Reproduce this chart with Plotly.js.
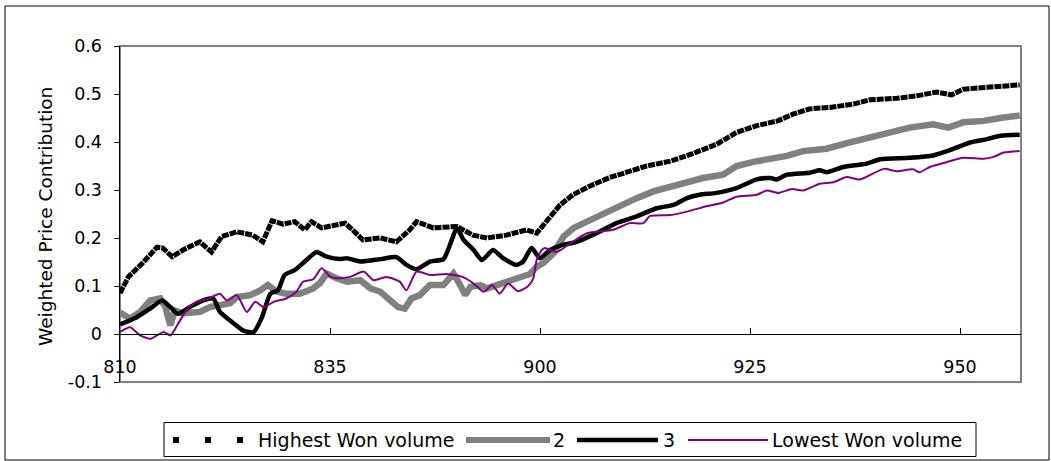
<!DOCTYPE html>
<html>
<head>
<meta charset="utf-8">
<script src="https://cdn.plot.ly/plotly-3.0.1.min.js"></script>
<style>html,body{margin:0;padding:0;background:#fff;}#chart{width:1051px;height:461px;}</style>
</head>
<body>
<div id="chart"></div>
<script>
// Time axis: minutes after 8:10 (ticks labelled in HMM form)
const tickMinutes = [0, 25, 50, 75, 100];
const tickLabels = ['810', '835', '900', '925', '950'];
const yTickVals = [-0.1, 0, 0.1, 0.2, 0.3, 0.4, 0.5, 0.6];
const yTickText = ['-0.1', '0', '0.1', '0.2', '0.3', '0.4', '0.5', '0.6'];
const seriesNames = ['Highest Won volume', '2', '3', 'Lowest Won volume'];

const highT = [0,1,2.7,4.4,5.1,6.2,7.5,9.5,10.9,12.1,13.9,15.8,17,17.5,18.1,19.4,20.8,22,22.8,24,25.4,26.8,27.7,28.9,31,32.9,34.5,35.3,37.3,40.1,42,43.7,46,48.4,49.6,50.6,51.4,52.4,53.9,55.9,58.3,60.7,62.7,65.5,67.9,71,73.4,75.8,78.3,80.1,82.1,84.5,87.3,89.3,92.5,94.8,97.2,99,100.4,103.2,107.1];
const highV = [0.085,0.119,0.148,0.181,0.179,0.161,0.175,0.192,0.171,0.203,0.213,0.206,0.192,0.213,0.236,0.229,0.234,0.217,0.234,0.221,0.227,0.231,0.217,0.196,0.200,0.192,0.217,0.234,0.221,0.224,0.206,0.200,0.206,0.217,0.210,0.231,0.245,0.269,0.290,0.308,0.326,0.339,0.350,0.360,0.374,0.395,0.420,0.434,0.444,0.458,0.469,0.472,0.479,0.488,0.491,0.496,0.504,0.498,0.510,0.514,0.519];

const s2T = [0,1.2,2.4,3.6,4.8,5.4,6,6.5,7.5,9.5,10.7,11.9,13.1,13.9,15.5,16.7,17.6,18.7,19.8,21.4,23,23.8,24.6,25.8,27,28.6,29.8,31,32.1,33.1,33.9,34.7,35.7,36.9,38.5,39.7,40.5,41.1,41.7,42.9,43.7,44.8,46,47.6,48.8,49.6,50.4,51.6,52.8,54,55.6,57.5,59.5,61.5,63.5,65.1,67.1,69.4,71.8,73.4,75.8,78,79.4,81.3,84.1,86.9,89.3,92.1,94,96.8,98.6,100.4,102.8,105.2,107.1];
const s2V = [0.045,0.032,0.046,0.070,0.074,0.056,0.018,0.049,0.043,0.046,0.056,0.060,0.064,0.077,0.081,0.091,0.102,0.088,0.084,0.084,0.095,0.106,0.126,0.116,0.109,0.112,0.095,0.088,0.070,0.056,0.053,0.074,0.081,0.102,0.102,0.126,0.102,0.081,0.098,0.102,0.095,0.102,0.109,0.119,0.125,0.140,0.148,0.168,0.203,0.221,0.234,0.252,0.269,0.283,0.297,0.304,0.315,0.325,0.332,0.350,0.360,0.365,0.371,0.381,0.386,0.399,0.409,0.420,0.430,0.437,0.430,0.441,0.444,0.451,0.455];

const s3T = [0,2,3.6,5,6,6.9,8.3,9.9,11.1,11.9,13.1,14.7,15.9,16.9,17.9,18.8,19.6,20.8,22.2,23.4,24.6,26.2,27,28.6,31,32.9,34.1,35.3,36.9,38.5,39.5,40.1,40.9,42.1,43.1,44.4,45.6,47.2,48,49,50,51.2,52.8,54.4,56.7,59.1,61.5,63.9,65.9,67.5,69,71,73.4,75.8,77.4,78.2,79.4,82.1,83.3,84.1,86.1,88.9,90.5,94,96.8,98.8,101.2,103.2,104.8,107.1];
const s3V = [0.020,0.035,0.053,0.070,0.056,0.042,0.056,0.070,0.074,0.046,0.028,0.007,0.004,0.035,0.084,0.091,0.123,0.133,0.154,0.171,0.161,0.156,0.158,0.151,0.156,0.160,0.144,0.135,0.151,0.156,0.196,0.221,0.196,0.175,0.154,0.175,0.158,0.144,0.151,0.179,0.158,0.175,0.186,0.192,0.210,0.231,0.245,0.262,0.269,0.283,0.290,0.294,0.304,0.322,0.325,0.322,0.332,0.336,0.341,0.337,0.348,0.355,0.364,0.367,0.372,0.383,0.399,0.406,0.413,0.415];

const lowT = [0,1.2,2.4,3.6,4.4,5.2,6,6.9,7.9,9.1,10.3,11.9,12.7,13.9,15.1,16.1,17.1,18.3,19.8,21,21.8,23,24,25,25.8,27.4,29,30.2,31.7,33.3,34.1,35.3,36.9,38.9,40.9,42.1,43.3,44.3,45.2,46.2,47.4,48.6,49.2,49.6,50.2,50.6,52,53.6,55.6,58.7,60.7,62.3,63.1,65.5,67.5,69.8,71.8,73.4,75.8,77,78.4,80,81.3,83.3,84.9,86.5,88.1,90.9,92.5,94.4,95.2,96.4,98.4,100.4,102.8,104,105.2,107.1];
const lowV = [0.004,0.014,-0.003,-0.010,-0.003,0.004,-0.003,0.021,0.049,0.067,0.072,0.084,0.070,0.081,0.046,0.067,0.056,0.067,0.074,0.088,0.109,0.114,0.137,0.120,0.116,0.119,0.130,0.112,0.119,0.109,0.091,0.130,0.123,0.125,0.118,0.105,0.088,0.102,0.084,0.105,0.089,0.100,0.116,0.154,0.175,0.179,0.171,0.189,0.210,0.217,0.231,0.231,0.246,0.248,0.255,0.266,0.274,0.286,0.290,0.299,0.294,0.302,0.299,0.313,0.316,0.327,0.322,0.344,0.339,0.343,0.337,0.348,0.358,0.367,0.365,0.369,0.378,0.381];

const FONT = 'DejaVu Sans, Liberation Sans, Arial, sans-serif';

const traces = [
  {x: highT, y: highV, name: seriesNames[0], mode: 'lines', line: {color: '#000000', width: 5, dash: '7px,1px'}},
  {x: s2T, y: s2V, name: seriesNames[1], mode: 'lines', line: {color: '#808080', width: 6.5}},
  {x: s3T, y: s3V, name: seriesNames[2], mode: 'lines', line: {color: '#000000', width: 4.5, shape: 'spline', smoothing: 0.6}},
  {x: lowT, y: lowV, name: seriesNames[3], mode: 'lines', line: {color: '#800080', width: 2, shape: 'spline', smoothing: 0.6}}
];

// plot area in pixels: left 120, right 1021, top 46, bottom 382
const L = 120, R = 1021, T = 46, B = 382;
const px = v => (v - L) / (R - L);
const py = v => (B - v) / (B - T);

const shapes = [
  {type: 'rect', xref: 'paper', yref: 'paper', x0: 0, x1: 1, y0: 0, y1: 1, line: {color: '#808080', width: 2}, layer: 'below'},
  {type: 'rect', xref: 'paper', yref: 'paper', x0: px(5), x1: px(1049), y0: py(460), y1: py(6), line: {color: '#000000', width: 1}},
  {type: 'rect', xref: 'paper', yref: 'paper', x0: px(164), x1: px(976), y0: py(456.5), y1: py(422.5), line: {color: '#000000', width: 1}},
  {type: 'line', xref: 'paper', yref: 'paper', x0: px(173), x1: px(243), y0: py(440), y1: py(440), line: {color: '#000000', width: 6, dash: '6px,26px'}},
  {type: 'line', xref: 'paper', yref: 'paper', x0: px(466), x1: px(550), y0: py(440), y1: py(440), line: {color: '#808080', width: 6}},
  {type: 'line', xref: 'paper', yref: 'paper', x0: px(577), x1: px(658), y0: py(440), y1: py(440), line: {color: '#000000', width: 4.5}},
  {type: 'line', xref: 'paper', yref: 'paper', x0: px(688), x1: px(768), y0: py(440), y1: py(440), line: {color: '#800080', width: 2}}
];

const legFont = {family: FONT, size: 19, color: '#000000'};
const annotations = [
  {xref: 'paper', yref: 'paper', x: px(45), y: py(217), text: 'Weighted Price Contribution', textangle: -90, showarrow: false, xanchor: 'center', yanchor: 'middle', font: {family: FONT, size: 18.5, color: '#000000'}},
  {xref: 'paper', yref: 'paper', x: px(256), y: py(440), text: seriesNames[0], showarrow: false, xanchor: 'left', yanchor: 'middle', font: legFont},
  {xref: 'paper', yref: 'paper', x: px(551), y: py(440), text: seriesNames[1], showarrow: false, xanchor: 'left', yanchor: 'middle', font: legFont},
  {xref: 'paper', yref: 'paper', x: px(661), y: py(440), text: seriesNames[2], showarrow: false, xanchor: 'left', yanchor: 'middle', font: legFont},
  {xref: 'paper', yref: 'paper', x: px(770), y: py(440), text: seriesNames[3], showarrow: false, xanchor: 'left', yanchor: 'middle', font: legFont}
];

const layout = {
  width: 1051, height: 461,
  margin: {l: L, r: 1051 - R, t: T, b: 461 - B, pad: 0},
  paper_bgcolor: '#ffffff', plot_bgcolor: '#ffffff',
  showlegend: false,
  font: {family: FONT, size: 17, color: '#000000'},
  xaxis: {
    range: [0, 107.26], anchor: 'free', position: 1 / 7,
    tickmode: 'array', tickvals: tickMinutes, ticktext: tickLabels,
    ticks: 'inside', ticklen: 6, tickwidth: 1, tickcolor: '#000000',
    showline: true, linecolor: '#000000', linewidth: 1,
    showgrid: false, zeroline: false, ticklabelstandoff: 17,
    tickfont: {family: FONT, size: 17.5, color: '#000000'}
  },
  yaxis: {
    range: [-0.1, 0.6],
    tickmode: 'array', tickvals: yTickVals, ticktext: yTickText,
    ticks: 'outside', ticklen: 5, tickwidth: 1, tickcolor: '#000000',
    showline: true, linecolor: '#000000', linewidth: 1.5,
    showgrid: false, zeroline: false, ticklabelstandoff: 8,
    tickfont: {family: FONT, size: 17.5, color: '#000000'}
  },
  shapes: shapes,
  annotations: annotations
};

Plotly.newPlot('chart', traces, layout, {staticPlot: true, displayModeBar: false});
</script>
</body>
</html>
